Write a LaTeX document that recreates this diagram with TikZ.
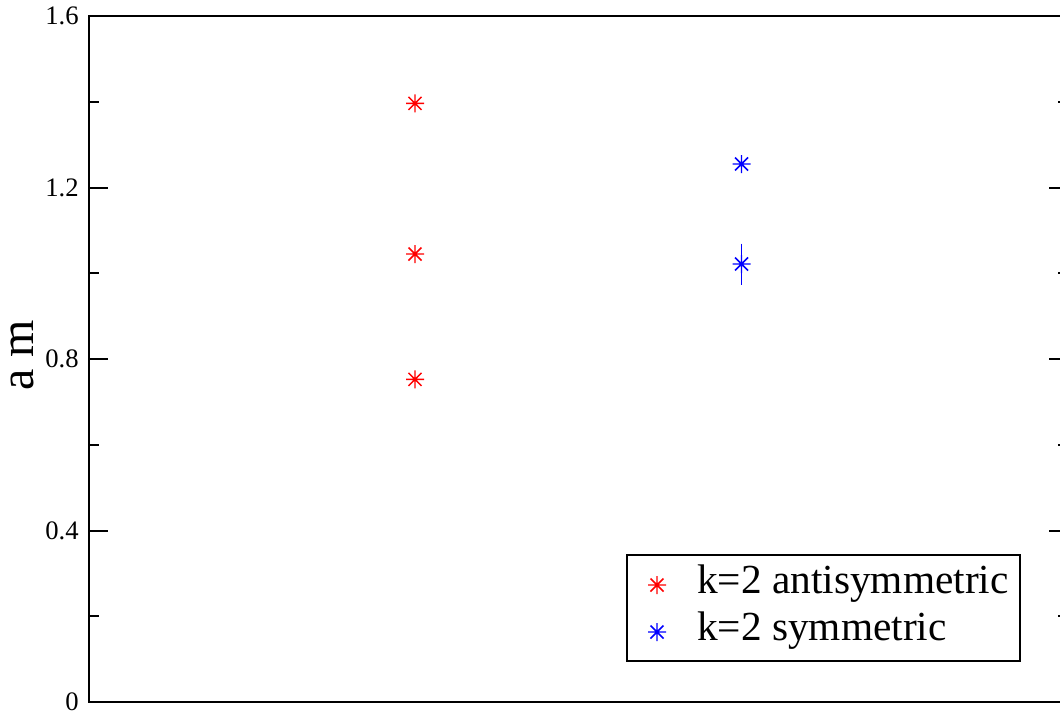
\documentclass[tikz,border=0pt]{standalone}
\usepackage{fontspec}
\setmainfont{Liberation Serif}
\usetikzlibrary{positioning}

\tikzset{
	frame/.style={black, line width=1.5pt},
	redpt/.style={red, line width=1.1pt},
	bluept/.style={blue, line width=1.1pt},
	ticklabel/.style={anchor=east, inner sep=0pt, font=\fontsize{20}{24}\selectfont},
	legtext/.style={anchor=base west, inner sep=0pt, font=\fontsize{31}{37}\selectfont}
}
\newcommand{\astmark}[2]{%
	\draw[#1] (#2) ++(-9,0) -- ++(18,0) (#2) ++(0,-9) -- ++(0,18)
		(#2) ++(-6.5,-6.5) -- ++(13,13) (#2) ++(-6.5,6.5) -- ++(13,-13);}

\begin{document}
\begin{tikzpicture}[x=0.75pt, y=-0.75pt]

	\clip (0,0) rectangle (1060,711);

	% frame and ticks
	\draw[frame] (88.5,16) rectangle (1068,702);
	\foreach \i/\lab in {0/0,1/0.4,2/0.8,3/1.2,4/1.6} {
		\pgfmathsetmacro{\yy}{702-\i*171.5}
		\draw[frame] (88.5,\yy) -- (107.5,\yy);
		\draw[frame] (1068,\yy) -- (1049,\yy);
		\node[ticklabel] (tick\i) at (79,\yy) {\lab};
	}
	\foreach \i in {0,...,3} {
		\pgfmathsetmacro{\yy}{702-85.75-\i*171.5}
		\draw[frame] (88.5,\yy) -- (98.5,\yy);
		\draw[frame] (1068,\yy) -- (1058,\yy);
	}

	\node[rotate=90, inner sep=0pt, font=\fontsize{36}{40}\selectfont] (ylabel) at (22,355) {a m};

	% data
	\coordinate (r1) at (415,103.3);
	\coordinate (r2) at (415,254);
	\coordinate (r3) at (415,379.3);
	\coordinate (b1) at (741.5,164);
	\coordinate (b2) at (741.5,264);

	\astmark{redpt}{r1}
	\astmark{redpt}{r2}
	\astmark{redpt}{r3}
	\astmark{bluept}{b1}
	\astmark{bluept}{b2}
	\draw[bluept] (b2) ++(0,-20.5) -- ++(0,41);

	% legend
	\draw[black, line width=1.1pt] (627,555) rectangle (1020,661);
	\coordinate (lr) at (657,585);
	\coordinate (lb) at (657,632);
	\astmark{redpt}{lr}
	\astmark{bluept}{lb}
	\node[legtext] (antisym) at (697,593) {k=2 antisymmetric};
	\node[legtext] (sym) at (697,640) {k=2 symmetric};

\end{tikzpicture}
\end{document}
